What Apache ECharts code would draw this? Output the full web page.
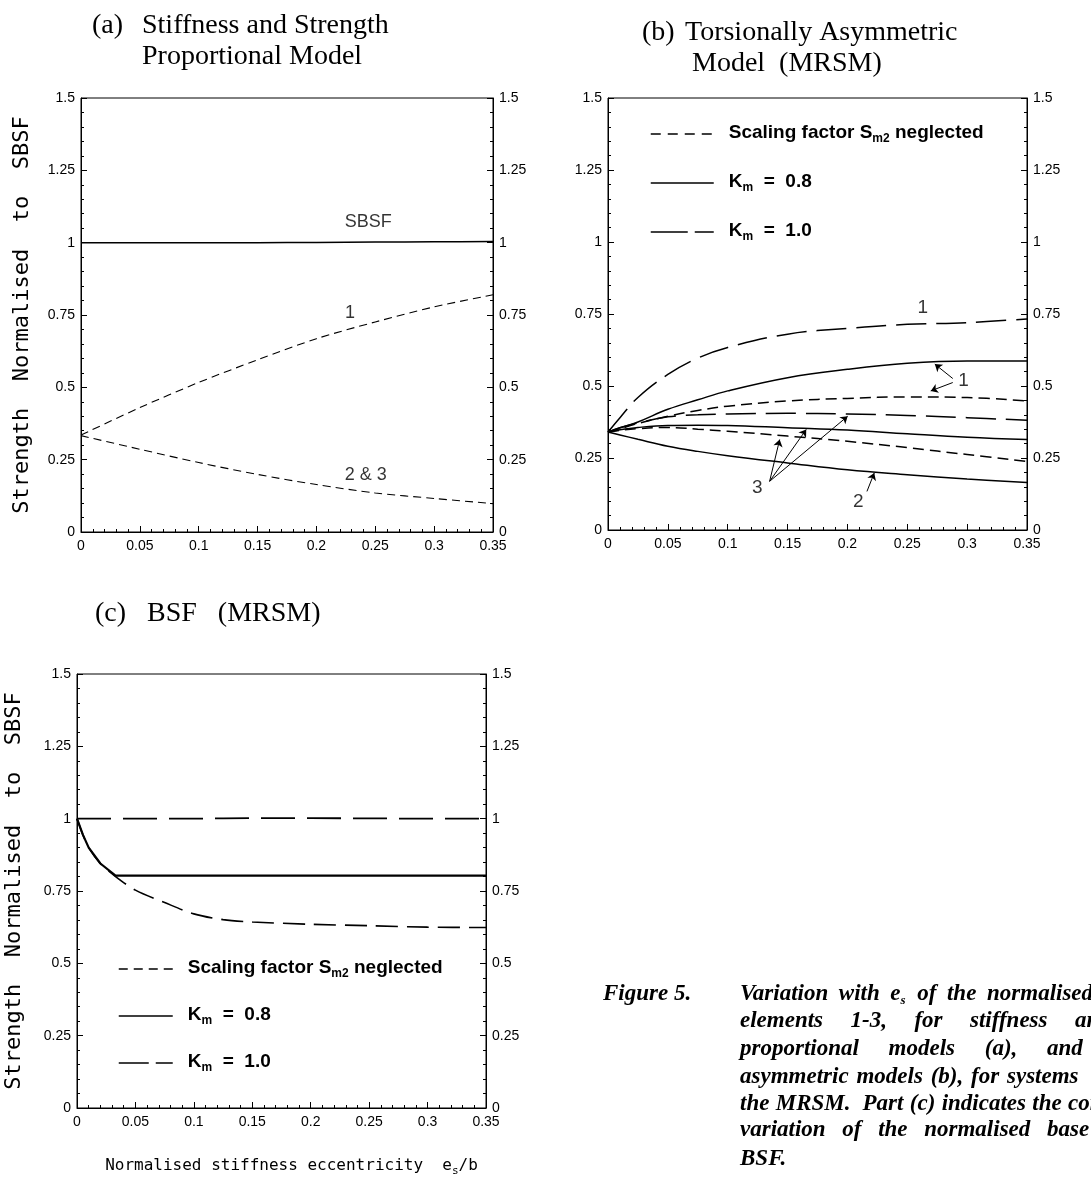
<!DOCTYPE html>
<html>
<head>
<meta charset="utf-8">
<script src="https://cdn.jsdelivr.net/npm/echarts@6/dist/echarts.min.js"></script>
<style>
html,body{margin:0;padding:0;background:#fff}
#chart{width:1091px;height:1178px}
</style>
</head>
<body>
<div id="chart"></div>
<script>
// (a) stiffness and strength proportional model
const eA = [0, 0.05, 0.1, 0.15, 0.2, 0.25, 0.3, 0.35]
const sbsfA = [1, 1, 1, 1, 1.001, 1.002, 1.003, 1.004]
const elem1A = [0.335, 0.43, 0.517, 0.595, 0.668, 0.726, 0.778, 0.82]
const elem23A = [0.333, 0.286, 0.24, 0.199, 0.164, 0.135, 0.116, 0.098]

// (b) torsionally asymmetric model
const eB = [0, 0.01, 0.025, 0.05, 0.075, 0.1, 0.15, 0.2, 0.25, 0.3, 0.35]
const b1Km10 = [0.34, 0.39, 0.46, 0.54, 0.597, 0.634, 0.68, 0.70, 0.714, 0.72, 0.733]
const b1Km08 = [0.34, 0.355, 0.375, 0.419, 0.452, 0.483, 0.529, 0.558, 0.579, 0.587, 0.587]
const b1Neg = [0.34, 0.352, 0.37, 0.395, 0.415, 0.43, 0.448, 0.457, 0.462, 0.46, 0.448]
const b3Km10 = [0.34, 0.355, 0.372, 0.393, 0.4, 0.403, 0.405, 0.403, 0.398, 0.39, 0.381]
const b3Km08 = [0.34, 0.348, 0.356, 0.363, 0.364, 0.363, 0.355, 0.347, 0.334, 0.322, 0.314]
const b3Neg = [0.34, 0.346, 0.352, 0.356, 0.35, 0.343, 0.326, 0.308, 0.286, 0.262, 0.238]
const b2Km08 = [0.34, 0.33, 0.315, 0.291, 0.273, 0.258, 0.233, 0.209, 0.192, 0.177, 0.165]

// (c) BSF
const eC = [0, 0.005, 0.01, 0.02, 0.033, 0.05, 0.075, 0.1, 0.125, 0.15, 0.2, 0.25, 0.3, 0.35]
const cNeg = [1, 0.945, 0.9, 0.845, 0.8, 0.753, 0.71, 0.671, 0.651, 0.643, 0.635, 0.63, 0.625, 0.624]
const cKm08 = [1, 0.945, 0.9, 0.845, 0.803, 0.803, 0.803, 0.803, 0.803, 0.803, 0.803, 0.803, 0.803, 0.803]
const cKm10 = [1, 1, 1, 1, 1, 1, 1, 1, 1.001, 1.002, 1.002, 1.001, 1, 1]

// text labels [x, y, text] and arrows [x1, y1, x2, y2] in data units
const labelsA = [[0.244, 1.07, 'SBSF'], [0.2285, 0.757, '1'], [0.242, 0.197, '2 & 3']]
const labelsB = [[0.263, 0.77, '1'], [0.297, 0.517, '1'], [0.1248, 0.148, '3'], [0.209, 0.099, '2']]
const arrowsB = [
  [0.288, 0.526, 0.273, 0.576], [0.288, 0.512, 0.2696, 0.483],
  [0.135, 0.169, 0.1434, 0.314], [0.135, 0.169, 0.1656, 0.349], [0.135, 0.169, 0.2002, 0.395],
  [0.2163, 0.134, 0.2224, 0.198]
]

const NEG = 'Scaling factor Sm2 neglected'
const K08 = 'Km = 0.8'
const K10 = 'Km = 1.0'

const SANS = 'Liberation Sans, Arial, sans-serif'
const SERIF = 'Liberation Serif, Times New Roman, serif'
const MONO = 'DejaVu Sans Mono, monospace'

const pts = (xs, ys) => xs.map((x, i) => [x, ys[i]])

function curve(name, grid, xs, ys, dash, width, smooth) {
  return {
    type: 'line', name: name, xAxisIndex: grid, yAxisIndex: grid * 2,
    data: pts(xs, ys), symbol: 'none', showSymbol: false, silent: true,
    smooth: smooth, lineStyle: {color: '#000', width: width, type: dash}
  }
}

function notes(grid, labels, arrows, font) {
  return {
    type: 'scatter', xAxisIndex: grid, yAxisIndex: grid * 2, silent: true, symbolSize: 1,
    itemStyle: {color: 'rgba(0,0,0,0)'}, z: 5,
    data: labels.map(l => ({value: [l[0], l[1]], name: l[2]})),
    label: {show: true, position: 'inside', formatter: '{b}', color: '#000', fontSize: font, fontFamily: SANS},
    markLine: {
      silent: true, animation: false, symbol: ['none', 'arrow'], symbolSize: 7,
      label: {show: false}, lineStyle: {color: '#000', width: 1, type: 'solid'},
      data: arrows.map(a => [{coord: [a[0], a[1]]}, {coord: [a[2], a[3]]}])
    }
  }
}

function xAx(grid, extra) {
  return Object.assign({
    type: 'value', gridIndex: grid, min: 0, max: 0.35, interval: 0.05,
    axisLine: {show: true, onZero: false, lineStyle: {color: '#000', width: 1}},
    axisTick: {inside: true, length: 6, lineStyle: {color: '#000'}},
    minorTick: {show: true, splitNumber: 5, length: 3, lineStyle: {color: '#000'}},
    splitLine: {show: false},
    axisLabel: {color: '#000', fontFamily: SANS, fontSize: 14, margin: 7}
  }, extra || {})
}

function yAx(grid, pos, extra) {
  return Object.assign({
    type: 'value', gridIndex: grid, position: pos, min: 0, max: 1.5, interval: 0.25,
    axisLine: {show: true, lineStyle: {color: '#000', width: 1}},
    axisTick: {inside: true, length: 6, lineStyle: {color: '#000'}},
    minorTick: {show: true, splitNumber: 5, length: 3, lineStyle: {color: '#000'}},
    splitLine: {show: false},
    axisLabel: {color: '#000', fontFamily: SANS, fontSize: 14, margin: 6}
  }, extra || {})
}

const yName = {
  name: 'Strength  Normalised  to  SBSF', nameLocation: 'middle',
  nameTextStyle: {fontFamily: MONO, fontSize: 22, color: '#000'}
}

const legendRich = {
  g: {width: 10},
  t: {fontFamily: SANS, fontWeight: 'bold', fontSize: 19, color: '#000', verticalAlign: 'top', lineHeight: 22},
  s: {fontFamily: SANS, fontWeight: 'bold', fontSize: 12, color: '#000', verticalAlign: 'bottom', lineHeight: 10}
}
function legendText(name) {
  if (name === NEG) return '{g| }{t|Scaling factor S}{s|m2}{t| neglected}'
  if (name === K08) return '{g| }{t|K}{s|m}{t|  =  0.8}'
  return '{g| }{t|K}{s|m}{t|  =  1.0}'
}
function legendItems(shortDash, longDash) {
  const hide = {opacity: 0}
  return [
    {name: NEG, lineStyle: {type: shortDash, width: 1.5, color: '#000'}, itemStyle: hide},
    {name: K08, lineStyle: {type: 'solid', width: 1.5, color: '#000'}, itemStyle: hide},
    {name: K10, lineStyle: {type: longDash, width: 1.5, color: '#000'}, itemStyle: hide}
  ]
}

const serifTitle = {fontFamily: SERIF, fontSize: 28, fontWeight: 'normal', color: '#000', lineHeight: 31}

// caption: [baseline, x where the last visible word starts, words]
const captionLines = [
  [1002, 987, ['Variation', 'with', 'e', 'of', 'the', 'normalised']],
  [1029, 1075, ['elements', '1-3,', 'for', 'stiffness', 'and']],
  [1057, 1047, ['proportional', 'models', '(a),', 'and']],
  [1085, 1007, ['asymmetric', 'models', '(b),', 'for', 'systems']],
  [1112, 1068, ['the', 'MRSM.', ' Part', '(c)', 'indicates', 'the', 'corresponding']],
  [1138, 1047, ['variation', 'of', 'the', 'normalised', 'base']],
  [1167, 738, ['BSF.']]
]
const CAP_X = 740
const capStyle = {fontFamily: SERIF, fontSize: 23, fontWeight: 'bold', fontStyle: 'italic', fill: '#000', verticalAlign: 'middle'}
const measure = document.createElement('canvas').getContext('2d')
measure.font = 'italic bold 23px "Liberation Serif"'

const graphics = [
  {type: 'text', x: 603, y: 994, style: Object.assign({}, capStyle, {text: 'Figure 5.'})}
]
captionLines.forEach(([base, lastX, words]) => {
  const widths = words.map(w => measure.measureText(w).width + (w === 'e' ? 6 : 0))
  let used = 0
  for (let i = 0; i < words.length - 1; i++) used += widths[i]
  const gap = words.length > 1 ? (lastX - CAP_X - used) / (words.length - 1) : 0
  let x = CAP_X
  words.forEach((w, i) => {
    graphics.push({type: 'text', x: x, y: base - 8, style: Object.assign({}, capStyle, {text: w})})
    if (w === 'e') {
      graphics.push({type: 'text', x: x + widths[i] - 6, y: base - 1, style: Object.assign({}, capStyle, {text: 's', fontSize: 13})})
    }
    x += widths[i] + gap
  })
})

const chart = echarts.init(document.getElementById('chart'))
chart.setOption({
  animation: false,
  backgroundColor: '#fff',
  title: [
    {text: '(a)', left: 92, top: 10, padding: 0, textStyle: serifTitle},
    {text: 'Stiffness and Strength\nProportional Model', left: 142, top: 10, padding: 0, textStyle: serifTitle},
    {text: '(b)', left: 642, top: 17, padding: 0, textStyle: serifTitle},
    {text: 'Torsionally Asymmetric', left: 685, top: 17, padding: 0, textStyle: serifTitle},
    {text: 'Model  (MRSM)', left: 692, top: 48, padding: 0, textStyle: serifTitle},
    {text: '(c)', left: 95, top: 598, padding: 0, textStyle: serifTitle},
    {text: 'BSF   (MRSM)', left: 147, top: 598, padding: 0, textStyle: serifTitle}
  ],
  grid: [
    {left: 81, top: 98, width: 412, height: 434, show: true, borderColor: '#000', borderWidth: 1},
    {left: 608, top: 98, width: 419, height: 432, show: true, borderColor: '#000', borderWidth: 1},
    {left: 77, top: 674, width: 409, height: 434, show: true, borderColor: '#000', borderWidth: 1}
  ],
  xAxis: [
    xAx(0), xAx(1),
    xAx(2, {
      name: '{m|Normalised stiffness eccentricity  e}{s|s}{m|/b}', nameLocation: 'middle', nameGap: 50,
      nameTextStyle: {
        padding: [0, 0, 0, 20],
        rich: {
          m: {fontFamily: MONO, fontSize: 16, color: '#000', verticalAlign: 'top', lineHeight: 19},
          s: {fontFamily: MONO, fontSize: 11, color: '#000', verticalAlign: 'bottom', lineHeight: 10}
        }
      }
    })
  ],
  yAxis: [
    yAx(0, 'left', Object.assign({nameGap: 48}, yName)), yAx(0, 'right'),
    yAx(1, 'left'), yAx(1, 'right'),
    yAx(2, 'left', Object.assign({nameGap: 52}, yName)), yAx(2, 'right')
  ],
  legend: [
    {
      left: 645, top: 118, orient: 'vertical', itemWidth: 63, itemHeight: 14, itemGap: 27,
      selectedMode: false, data: legendItems([10, 7], [37, 7]),
      formatter: legendText, textStyle: {rich: legendRich}
    },
    {
      left: 113, top: 953, orient: 'vertical', itemWidth: 54, itemHeight: 14, itemGap: 25,
      selectedMode: false, data: legendItems([9, 6], [30, 7]),
      formatter: legendText, textStyle: {rich: legendRich}
    }
  ],
  graphic: graphics,
  series: [
    curve('SBSF', 0, eA, sbsfA, 'solid', 1.5, 0.3),
    curve('Element 1', 0, eA, elem1A, [8, 5], 1.1, 0.3),
    curve('Elements 2 & 3', 0, eA, elem23A, [8, 5], 1.1, 0.3),
    notes(0, labelsA, [], 18),

    curve(K10, 1, eB, b1Km10, [30, 10], 1.5, 0.4),
    curve(K08, 1, eB, b1Km08, 'solid', 1.5, 0.4),
    curve(NEG, 1, eB, b1Neg, [11, 6], 1.5, 0.4),
    curve(K10, 1, eB, b3Km10, [30, 10], 1.5, 0.4),
    curve(K08, 1, eB, b3Km08, 'solid', 1.5, 0.4),
    curve(NEG, 1, eB, b3Neg, [11, 6], 1.5, 0.4),
    curve(K08, 1, eB, b2Km08, 'solid', 1.5, 0.4),
    notes(1, labelsB, arrowsB, 19),

    curve(K10, 2, eC, cKm10, [34, 12], 1.8, false),
    curve(K08, 2, eC, cKm08, 'solid', 2.2, false),
    curve(NEG, 2, eC, cNeg, [22, 9], 1.6, 0.3)
  ]
})
</script>
</body>
</html>
